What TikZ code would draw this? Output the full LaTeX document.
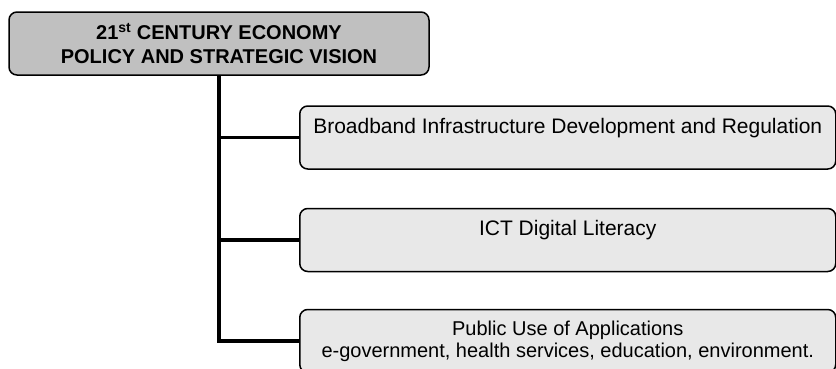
\documentclass[tikz,border=0pt]{standalone}
\usepackage{fontspec}
\setmainfont{Liberation Sans}
\definecolor{headgray}{RGB}{192,192,192}
\definecolor{itemgray}{RGB}{232,232,232}
\begin{document}
\begin{tikzpicture}[x=1pt,y=-1pt,
  head/.style={draw,line width=1.5pt,rounded corners=8pt,fill=headgray,minimum width=420pt,minimum height=63pt,align=center,font=\fontsize{20}{24}\selectfont\bfseries},
  item/.style={draw,line width=1.5pt,rounded corners=8pt,fill=itemgray,minimum width=536pt,minimum height=63pt,align=center,anchor=west,font=\fontsize{21}{22}\selectfont},
  oneline/.style={text height=15pt,text depth=24pt},
  branch/.style={line width=3.5pt}]
\path[use as bounding box] (0,0) rectangle (836,368);
\clip (0,0) rectangle (836,368);

\node[head] (vision) at (219,43.5) {21\textsuperscript{st} CENTURY ECONOMY\\POLICY AND STRATEGIC VISION};
\node[item,oneline] (broadband) at (299,137.5) {Broadband Infrastructure Development and Regulation};
\node[item,oneline] (literacy) at (299,240) {ICT Digital Literacy};
\node[item,font=\fontsize{20}{22}\selectfont] (apps) at (299,341) {Public Use of Applications\\e-government, health services, education, environment.};

\draw[branch] (vision.south) -- (vision.south |- apps.west) -- (apps.west);
\draw[branch] (vision.south |- broadband.west) -- (broadband.west);
\draw[branch] (vision.south |- literacy.west) -- (literacy.west);
\end{tikzpicture}
\end{document}
